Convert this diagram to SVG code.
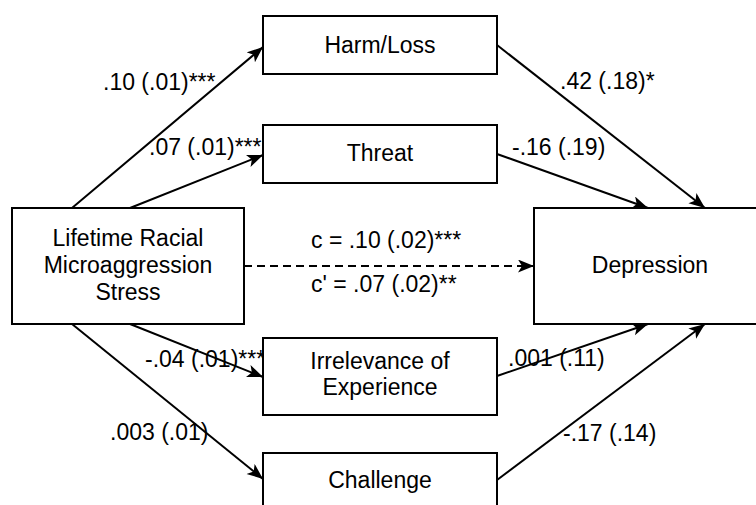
<svg xmlns="http://www.w3.org/2000/svg" width="756" height="505" viewBox="0 0 756 505">
  <style>
    .box { fill: #ffffff; stroke: #000000; stroke-width: 2; }
    .lbl { font-family: "Liberation Sans", Arial, Helvetica, sans-serif; font-size: 23px; fill: #000000; }
    .mid { text-anchor: middle; }
    .edge { fill: none; stroke: #000000; stroke-width: 2; marker-end: url(#arrow); }
    .dash { stroke-dasharray: 8 5; }
  </style>
  <defs>
    <marker id="arrow" markerUnits="userSpaceOnUse" markerWidth="18" markerHeight="14" refX="16" refY="6.5" orient="auto">
      <path d="M0,0 L16,6.5 L0,13 L4,6.5 z" fill="#000000"/>
    </marker>
  </defs>
  <rect width="756" height="505" fill="#ffffff"/>

  <!-- connectors -->
  <g id="connectors">
    <line class="edge" x1="72" y1="208" x2="263" y2="47"/>
    <line class="edge" x1="130" y1="208" x2="263" y2="155"/>
    <line class="edge" x1="130" y1="324" x2="263" y2="377"/>
    <line class="edge" x1="72" y1="324" x2="263" y2="479"/>
    <line class="edge" x1="497" y1="45" x2="705" y2="208"/>
    <line class="edge" x1="497" y1="154" x2="648" y2="208"/>
    <line class="edge" x1="497" y1="376" x2="648" y2="324"/>
    <line class="edge" x1="497" y1="480" x2="705" y2="324"/>
    <line class="edge dash" x1="244" y1="266" x2="534" y2="266"/>

    <text class="lbl" x="103" y="90">.10 (.01)***</text>
    <text class="lbl" x="149" y="155">.07 (.01)***</text>
    <text class="lbl" x="560" y="89">.42 (.18)*</text>
    <text class="lbl" x="512" y="155">-.16 (.19)</text>
    <text class="lbl" x="311" y="248">c = .10 (.02)***</text>
    <text class="lbl" x="311" y="292">c' = .07 (.02)**</text>
    <text class="lbl" x="145" y="367">-.04 (.01)***</text>
    <text class="lbl" x="110" y="440">.003 (.01)</text>
    <text class="lbl" x="508" y="366">.001 (.11)</text>
    <text class="lbl" x="563" y="441">-.17 (.14)</text>
  </g>

  <!-- nodes -->
  <g id="harm-loss">
    <rect class="box" x="263" y="16" width="234" height="58"/>
    <text class="lbl mid" x="380" y="53">Harm/Loss</text>
  </g>
  <g id="threat">
    <rect class="box" x="263" y="125" width="234" height="58"/>
    <text class="lbl mid" x="380" y="161">Threat</text>
  </g>
  <g id="stress">
    <rect class="box" x="12" y="208" width="232" height="116"/>
    <text class="lbl mid" x="128" y="246">Lifetime Racial</text>
    <text class="lbl mid" x="128" y="273">Microaggression</text>
    <text class="lbl mid" x="128" y="300">Stress</text>
  </g>
  <g id="depression">
    <rect class="box" x="534" y="208" width="232" height="116"/>
    <text class="lbl mid" x="650" y="273">Depression</text>
  </g>
  <g id="irrelevance">
    <rect class="box" x="263" y="338" width="234" height="77"/>
    <text class="lbl mid" x="380" y="369">Irrelevance of</text>
    <text class="lbl mid" x="380" y="395">Experience</text>
  </g>
  <g id="challenge">
    <rect class="box" x="263" y="453" width="234" height="70"/>
    <text class="lbl mid" x="380" y="488">Challenge</text>
  </g>
</svg>
